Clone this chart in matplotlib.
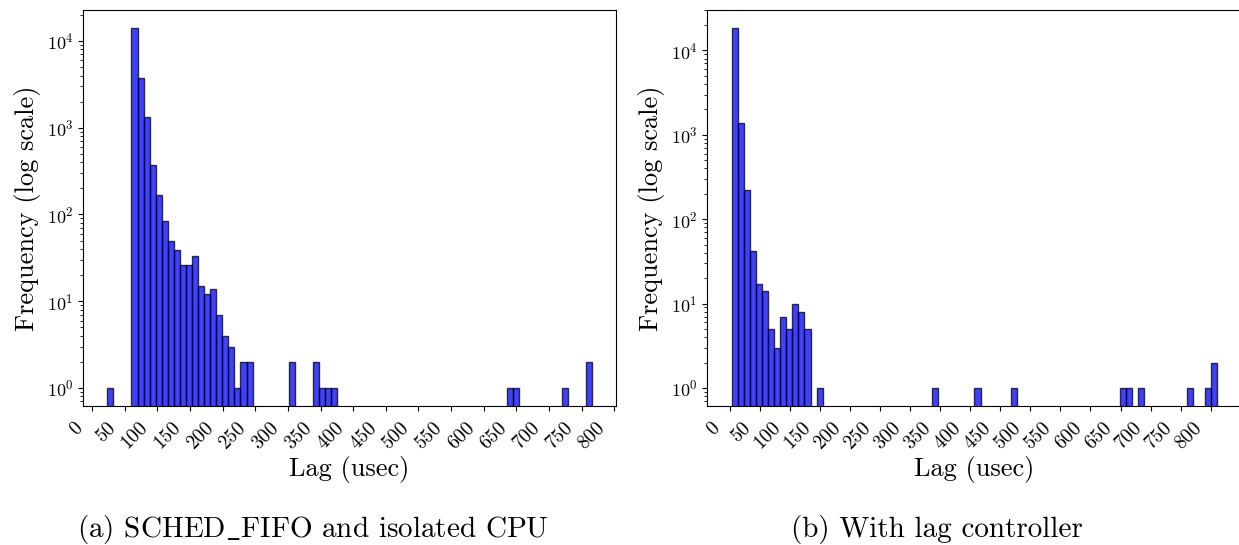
import numpy as np
import matplotlib
matplotlib.use("Agg")
import matplotlib.pyplot as plt
from matplotlib.transforms import ScaledTranslation

plt.rcParams["font.family"] = ["cmr10", "DejaVu Serif"]
plt.rcParams["mathtext.fontset"] = "cm"
plt.rcParams["axes.formatter.use_mathtext"] = True
plt.rcParams["axes.unicode_minus"] = False

N_BINS = 80

# (a) SCHED_FIFO and isolated CPU: lag range (usec), non-empty bin index, count
fifo_range = (23.2, 765.7)
fifo_bin = [0, 4, 5, 6, 7, 8, 9, 10, 11, 12, 13, 14, 15, 16, 17, 18, 19, 20, 21, 22, 23,
            30, 34, 35, 36, 37, 66, 67, 75, 79]
fifo_count = [1, 14100, 3720, 1330, 373, 168, 85, 50, 39, 26, 26, 33, 15, 12, 14, 7, 4, 3, 1, 2, 2,
              2, 2, 1, 1, 1, 1, 1, 1, 2]

# (b) With lag controller
ctrl_range = (3.3, 811.0)
ctrl_bin = [0, 1, 2, 3, 4, 5, 6, 7, 8, 9, 10, 11, 12, 14,
            33, 40, 46, 64, 65, 67, 75, 78, 79]
ctrl_count = [18400, 1370, 222, 42, 17, 14, 5, 3, 7, 5, 10, 8, 5, 1,
              1, 1, 1, 1, 1, 1, 1, 1, 2]

panels = [
    (fifo_range, fifo_bin, fifo_count, r"(a) SCHED$\_$FIFO and isolated CPU"),
    (ctrl_range, ctrl_bin, ctrl_count, "(b) With lag controller"),
]

fig = plt.figure(figsize=(12.39, 5.45), dpi=100)
rects = [[0.0670, 0.2550, 0.4302, 0.7266], [0.5709, 0.2550, 0.4312, 0.7266]]
caption_x = [313 / 1239, 937 / 1239]
# nudge rotated tick labels a little left/down, like the original
shift = ScaledTranslation(-0.05, -0.03, fig.dpi_scale_trans)

for rect, cx, (rng, bins, counts, caption) in zip(rects, caption_x, panels):
    ax = fig.add_axes(rect)
    edges = np.linspace(rng[0], rng[1], N_BINS + 1)
    width = edges[1] - edges[0]
    centers = edges[np.array(bins)] + width / 2
    ax.hist(centers, bins=edges, weights=counts, color="blue", alpha=0.75,
            edgecolor="black", log=True)
    ax.set_xticks(range(0, 801, 50))
    ax.tick_params(axis="x", labelsize=14)
    ax.tick_params(axis="y", labelsize=13)
    for lbl in ax.get_xticklabels():
        lbl.set_rotation(45)
        lbl.set_ha("right")
        lbl.set_transform(lbl.get_transform() + shift)
    ax.set_xlabel("Lag (usec)", fontsize=19, labelpad=2)
    ax.set_ylabel("Frequency (log scale)", fontsize=19)
    fig.text(cx, 8 / 545, caption, fontsize=21, ha="center", va="baseline")

fig.savefig("out.png", dpi=100)
